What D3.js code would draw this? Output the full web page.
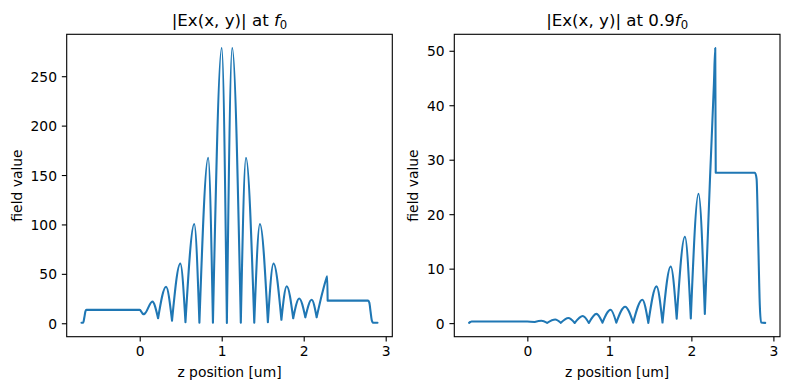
<!DOCTYPE html>
<html>
<head>
<meta charset="utf-8">
<script src="https://cdn.jsdelivr.net/npm/d3@7/dist/d3.min.js"></script>
<style>
  html, body { margin: 0; padding: 0; background: #ffffff; }
  svg { display: block; }
  text { font-family: "DejaVu Sans", sans-serif; fill: #000; }
</style>
</head>
<body>
<script>
// ---------------- DATA ----------------
const xTicks = [0, 1, 2, 3];
const leftYTicks = [0, 50, 100, 150, 200, 250];
const rightYTicks = [0, 10, 20, 30, 40, 50];

const xLabel = "z position [um]";
const yLabel = "field value";
const leftTitle = ["|Ex(x, y)| at ", "f", "0"];
const rightTitle = ["|Ex(x, y)| at 0.9", "f", "0"];

// |Ex| at f0 : [z (um), field value]
const leftPoints = [
  [-0.71, 0.5], [-0.69, 0.5], [-0.675, 6], [-0.662, 12], [-0.65, 13.5],
  [0.0, 13.5], [0.035, 9.8], [0.049, 9.1], [0.065, 10],
  [0.154, 21.9], [0.224, 5], [0.321, 37], [0.394, 2.6],
  [0.495, 60.5], [0.558, 1], [0.665, 100.5], [0.728, 0.5],
  [0.835, 167.5], [0.893, 0.5], [1.0, 278.5], [1.063, 0.3],
  [1.128, 278.5], [1.233, 0.5], [1.296, 167.5], [1.397, 0.5],
  [1.466, 100.5], [1.563, 1], [1.632, 60.5], [1.728, 3.5],
  [1.793, 37.5], [1.872, 5], [1.945, 25], [2.02, 6],
  [2.097, 23.8], [2.158, 6], [2.225, 30], [2.275, 45], [2.287, 47.5],
  [2.292, 22.9], [2.786, 22.9], [2.80, 21], [2.815, 12],
  [2.83, 3], [2.845, 0.5], [2.90, 0.5]
];

// |Ex| at 0.9 f0 : [z (um), field value]
const rightPoints = [
  [-0.71, 0.05], [-0.695, 0.2], [-0.68, 0.3], [0.0, 0.3],
  [0.09, 0.2], [0.171, 0.42], [0.242, 0.05], [0.34, 0.65],
  [0.408, 0.05], [0.50, 0.95], [0.578, 0.03], [0.675, 1.3],
  [0.75, 0.03], [0.842, 1.7], [0.916, 0.08], [1.015, 2.44],
  [1.085, 0.08], [1.192, 3.0], [1.29, 0.08], [1.402, 4.3],
  [1.475, 0.05], [1.575, 6.75], [1.648, 0.1], [1.748, 10.4],
  [1.821, 0.8], [1.921, 15.85], [1.993, 0.85], [2.087, 23.75],
  [2.164, 1.7], [2.227, 26.5], [2.275, 44], [2.291, 50.5],
  [2.297, 27.6], [2.775, 27.6], [2.795, 26.5], [2.815, 15],
  [2.835, 3], [2.85, 0.1], [2.90, 0.05]
];

// ---------------- DRAWING ----------------
const W = 790, H = 390;
const svg = d3.select("body").append("svg").attr("width", W).attr("height", H);

const FS = 13.89, TFS = 16.67, TICK = 4.86, LINEC = "#1f77b4";

function padded(ext) {
  const p = 0.05 * (ext[1] - ext[0]);
  return [ext[0] - p, ext[1] + p];
}

// split a polyline at its local minima so every dip is a sharp cusp
function runs(pts) {
  const out = [];
  let cur = [pts[0]];
  for (let i = 1; i < pts.length; i++) {
    cur.push(pts[i]);
    if (i < pts.length - 1 && pts[i][1] < pts[i - 1][1] && pts[i][1] <= pts[i + 1][1]) {
      out.push(cur);
      cur = [pts[i]];
    }
  }
  out.push(cur);
  return out;
}

function panel(cfg) {
  const { x0, x1, y0, y1, points, yTicks, title, ylabelX } = cfg;
  const x = d3.scaleLinear().domain(padded(d3.extent(points, d => d[0]))).range([x0, x1]);
  const y = d3.scaleLinear().domain(padded(d3.extent(points, d => d[1]))).range([y1, y0]);
  const g = svg.append("g");

  // curve
  const line = d3.line().x(d => x(d[0])).y(d => y(d[1])).curve(d3.curveMonotoneX);
  g.append("path")
    .attr("d", runs(points).map(r => line(r)).join(""))
    .attr("fill", "none")
    .attr("stroke", LINEC)
    .attr("stroke-width", 2.08)
    .attr("stroke-linejoin", "round")
    .attr("stroke-linecap", "round");

  // axes
  const ax = g.append("g").attr("transform", `translate(0,${y1})`)
    .call(d3.axisBottom(x).tickValues(xTicks).tickFormat(d3.format("d"))
      .tickSize(TICK).tickPadding(TICK).tickSizeOuter(0));
  const ay = g.append("g").attr("transform", `translate(${x0},0)`)
    .call(d3.axisLeft(y).tickValues(yTicks).tickFormat(d3.format("d"))
      .tickSize(TICK).tickPadding(TICK).tickSizeOuter(0));
  [ax, ay].forEach(a => {
    a.select(".domain").remove();
    a.attr("font-family", null).attr("font-size", null);
    a.selectAll("line").attr("stroke", "#000").attr("stroke-width", 1.11);
    a.selectAll("text").style("font-size", FS + "px").attr("fill", "#000");
  });
  ay.selectAll("text").attr("dy", "0.36em");

  // spines
  g.append("rect")
    .attr("x", x0).attr("y", y0).attr("width", x1 - x0).attr("height", y1 - y0)
    .attr("fill", "none").attr("stroke", "#000").attr("stroke-width", 1.11);

  // title
  const cx = (x0 + x1) / 2;
  const t = g.append("text").attr("x", cx).attr("y", y0 - 8.4)
    .attr("text-anchor", "middle").style("font-size", TFS + "px");
  t.append("tspan").text(title[0]);
  t.append("tspan").attr("font-style", "italic").text(title[1]);
  t.append("tspan").attr("dy", 3.2).style("font-size", (TFS * 0.7) + "px").text(title[2]);

  // labels
  g.append("text").attr("x", cx).attr("y", 376.5).attr("text-anchor", "middle")
    .style("font-size", FS + "px").text(xLabel);
  g.append("text")
    .attr("transform", `translate(${ylabelX},${(y0 + y1) / 2}) rotate(-90)`)
    .attr("text-anchor", "middle").style("font-size", FS + "px").text(yLabel);
}

panel({ x0: 66.7, x1: 392.3, y0: 34.3, y1: 336.7, points: leftPoints,
        yTicks: leftYTicks, title: leftTitle, ylabelX: 21.6 });
panel({ x0: 454.3, x1: 780, y0: 34.3, y1: 336.7, points: rightPoints,
        yTicks: rightYTicks, title: rightTitle, ylabelX: 418 });
</script>
</body>
</html>
